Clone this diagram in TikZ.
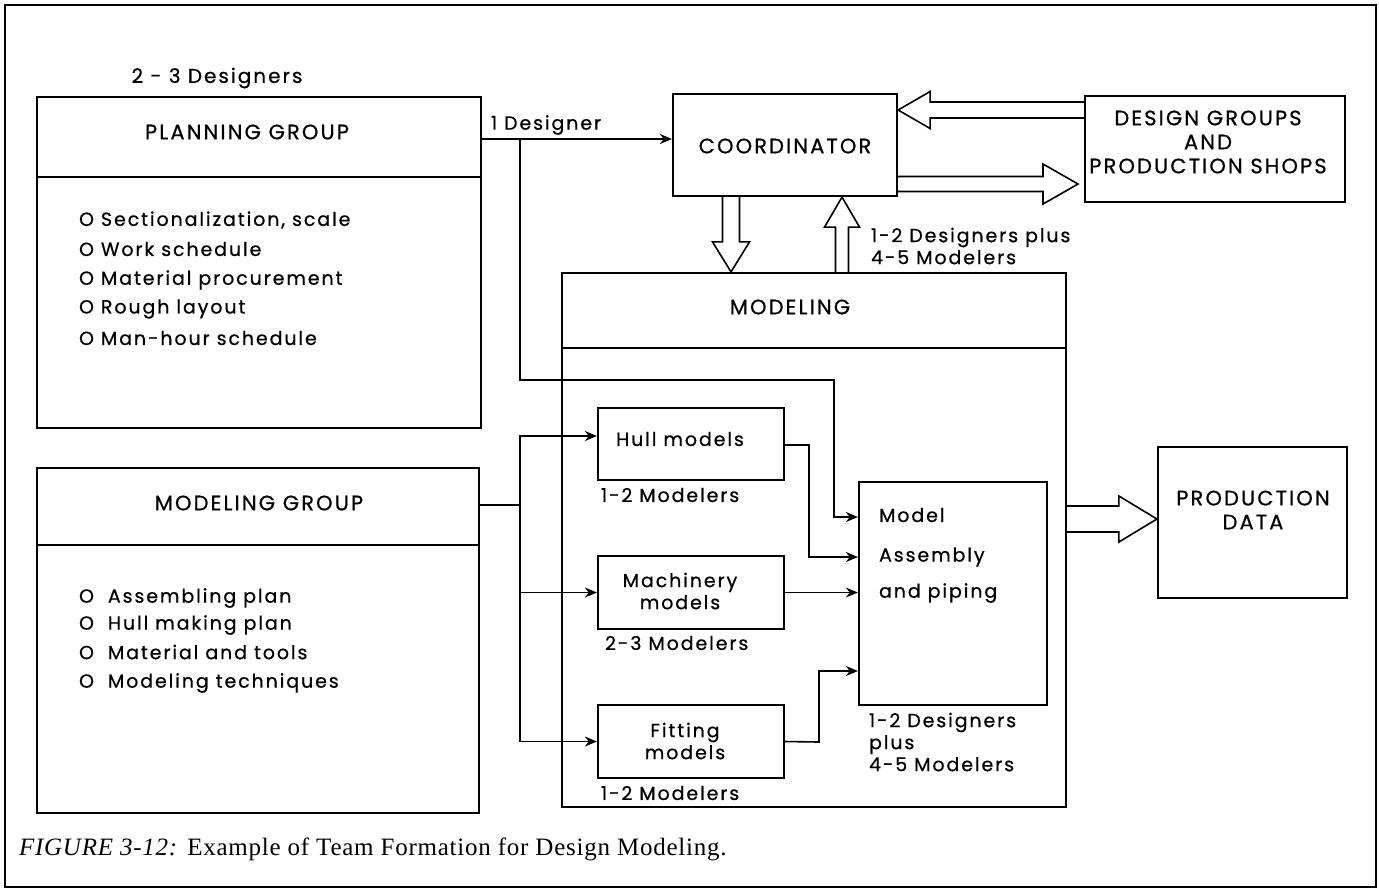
\documentclass[tikz,border=0pt]{standalone}
\usepackage{fontspec}
\setmainfont{Poppins}[LetterSpace=10, FakeBold=0.6]
\newfontfamily\capfont{Liberation Serif}[LetterSpace=3]
\usetikzlibrary{arrows.meta, positioning, fit, calc}

\tikzset{
	frame/.style={draw, line width=1.1pt, inner sep=0pt},
	wire/.style={line width=0.8pt},
	link/.style={line width=0.8pt, -{Stealth[length=6pt,width=5pt]}},
	fat/.style={line width=0.8pt, line join=miter},
	head/.style={font=\fontsize{10.5}{12}\selectfont},
	item/.style={font=\fontsize{9.5}{11}\selectfont, anchor=west},
	note/.style={font=\fontsize{9.5}{11}\selectfont},
}

% box from corner to corner (pixel units)
\newcommand{\groupbox}[5]{
	\coordinate (#1-nw) at (#2,#3);
	\coordinate (#1-se) at (#4,#5);
	\node[frame, fit=(#1-nw)(#1-se)] (#1) {};
}
% hollow block arrow: tail, tip, shaft half, head half, head length
\newcommand{\hfat}[5]{
	\draw[fat] ($(#1)+(0,{-(#3)})$) -- ($(#2)+({-(#5)},{-(#3)})$) -- ($(#2)+({-(#5)},{-(#4)})$) -- (#2)
		-- ($(#2)+({-(#5)},{#4})$) -- ($(#2)+({-(#5)},{#3})$) -- ($(#1)+(0,{#3})$);
}
\newcommand{\vfat}[5]{
	\draw[fat] ($(#1)+({-(#3)},0)$) -- ($(#2)+({-(#3)},{-(#5)})$) -- ($(#2)+({-(#4)},{-(#5)})$) -- (#2)
		-- ($(#2)+({#4},{-(#5)})$) -- ($(#2)+({#3},{-(#5)})$) -- ($(#1)+({#3},0)$);
}

\begin{document}
\begin{tikzpicture}[x=0.5pt, y=-0.5pt]
	\useasboundingbox (0,0) rectangle (1379,890);
	\draw[line width=1pt] (5,5) rectangle (1376,887);

	% Planning group
	\groupbox{plan}{37}{97}{481}{428}
	\draw[line width=1.1pt] (plan.west |- 0,177) -- (plan.east |- 0,177);
	\node[head, font=\fontsize{10}{12}\selectfont] (t-designers) at (217,78) {2 - 3 Designers};
	\node[head] (t-plan) at (247,132) {PLANNING GROUP};
	\node[item] (p1) at (72,220) {O Sectionalization, scale};
	\node[item] (p2) at (72,249) {O Work schedule};
	\node[item] (p3) at (72,280) {O Material procurement};
	\node[item] (p4) at (72,309) {O Rough layout};
	\node[item] (p5) at (72,338) {O Man-hour schedule};

	% Modeling group
	\groupbox{mgrp}{37}{468}{479}{813}
	\draw[line width=1.1pt] (mgrp.west |- 0,545) -- (mgrp.east |- 0,545);
	\node[head] (t-mgrp) at (259,503) {MODELING GROUP};
	\node[item] (g1) at (72,598) {O\ \ Assembling plan};
	\node[item] (g2) at (72,625) {O\ \ Hull making plan};
	\node[item] (g3) at (72,652) {O\ \ Material and tools};
	\node[item] (g4) at (72,683) {O\ \ Modeling techniques};

	% Coordinator and outside groups
	\groupbox{coord}{673}{94}{897}{196}
	\node[head] (t-coord) at (785,146) {COORDINATOR};
	\groupbox{dg}{1085}{96}{1345}{202}
	\node[head, align=center] (t-dg) at (1208,142) {DESIGN GROUPS\\AND\\PRODUCTION SHOPS};

	% Modeling
	\groupbox{mdl}{562}{273}{1066}{807}
	\draw[line width=1.1pt] (mdl.west |- 0,348) -- (mdl.east |- 0,348);
	\node[head] (t-mdl) at (790,307) {MODELING};
	\node[note, anchor=west, align=left] (t-plus) at (864,246) {1-2 Designers plus\\4-5 Modelers};

	\groupbox{hull}{598}{408}{784}{480}
	\node[note] (t-hull) at (680,439) {Hull models};
	\node[note, anchor=west] (n-hull) at (594,495) {1-2 Modelers};
	\groupbox{mach}{598}{556}{784}{629}
	\node[note, align=center] (t-mach) at (680,591) {Machinery\\models};
	\node[note, anchor=west] (n-mach) at (598,643) {2-3 Modelers};
	\groupbox{fitting}{598}{705}{784}{778}
	\node[note, align=center] (t-fitting) at (685,741) {Fitting\\models};
	\node[note, anchor=west] (n-fitting) at (594,793) {1-2 Modelers};

	\groupbox{asm}{859}{482}{1047}{705}
	\node[note, anchor=west] (a1) at (872,515) {Model};
	\node[note, anchor=west] (a2) at (872,557) {Assembly};
	\node[note, anchor=west] (a3) at (872,593) {and piping};
	\node[note, anchor=west, align=left] (n-asm) at (862,742) {1-2 Designers\\plus\\4-5 Modelers};

	\groupbox{prod}{1158}{447}{1347}{598}
	\node[head, align=center] (t-prod) at (1253,510) {PRODUCTION\\DATA};

	% connectors
	\coordinate (split) at (520,139);
	\node[note, anchor=west] (t-one) at (484,125) {1 Designer};
	\draw[link] (plan.east |- split) -- (coord.west |- split);
	\draw[link] (split) |- (834,380) |- (asm.west |- 0,517);

	\coordinate (fork) at (520,505);
	\draw[wire] (mgrp.east |- fork) -- (fork);
	\draw[link] (fork) |- (hull.west |- 0,436);
	\draw[link] (fork) |- (mach.west);
	\draw[link] (fork) |- (fitting.west);

	\draw[link] (hull.east |- 0,445) -- (809,445) |- (asm.west |- 0,557);
	\draw[link] (mach.east) -- (asm.west |- mach.east);
	\draw[link] (fitting.east) -- (819,742) |- (asm.west |- 0,671);

	% block arrows
	\coordinate (dgtail) at (dg.west |- 0,110);
	\coordinate (dgtip) at (coord.east |- 0,110);
	\hfat{dgtail}{dgtip}{8}{18.5}{-32}
	\coordinate (cotail) at (coord.east |- 0,184);
	\coordinate (cotip) at (1078,184);
	\hfat{cotail}{cotip}{7.5}{20}{35}
	\coordinate (dntail) at (coord.south -| 731,0);
	\coordinate (dntip) at (mdl.north -| 731,0);
	\vfat{dntail}{dntip}{8.5}{18.5}{30}
	\coordinate (uptail) at (mdl.north -| 842,0);
	\coordinate (uptip) at (coord.south -| 842,0);
	\vfat{uptail}{uptip}{6.5}{17.5}{-30}
	\coordinate (prtail) at (mdl.east |- 0,519);
	\coordinate (prtip) at (prod.west |- 0,519);
	\hfat{prtail}{prtip}{13}{23}{38}

	\node[anchor=west, font=\capfont\fontsize{12.5}{14}\selectfont] (caption) at (12,849) {\textit{FIGURE 3-12:} Example of Team Formation for Design Modeling.};
\end{tikzpicture}
\end{document}
